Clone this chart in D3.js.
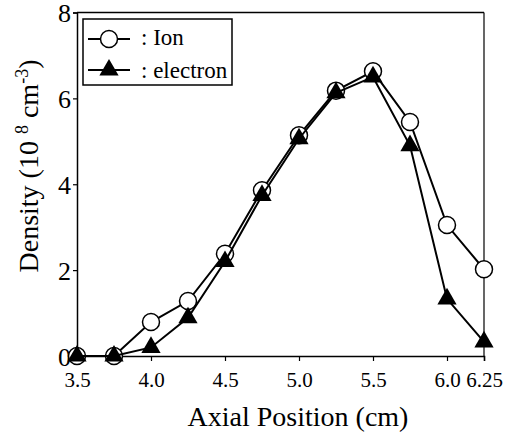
<!DOCTYPE html>
<html>
<head>
<meta charset="utf-8">
<script src="https://cdn.jsdelivr.net/npm/d3@7"></script>
<style>
  body { margin: 0; background: #fff; }
  svg { display: block; }
  text { font-family: "Liberation Serif", "Times New Roman", serif; fill: #000; }
</style>
</head>
<body>
<svg id="chart" width="522" height="432"></svg>
<script>
// axial positions (cm)
var positions = [3.5, 3.75, 4.0, 4.25, 4.5, 4.75, 5.0, 5.25, 5.5, 5.75, 6.0, 6.25];
// densities in 10^8 cm^-3
var ionDensity = [0, 0, 0.79, 1.28, 2.38, 3.86, 5.14, 6.18, 6.63, 5.45, 3.05, 2.02];
var electronDensity = [0, 0, 0.2, 0.89, 2.2, 3.74, 5.06, 6.13, 6.5, 4.9, 1.33, 0.33];
var xTicks = [3.5, 4.0, 4.5, 5.0, 5.5, 6.0, 6.25];
var yTicks = [0, 2, 4, 6, 8];

var svg = d3.select("#chart");

var plotLeft = 77, plotRight = 484, plotTop = 12.5, plotBottom = 356;

var xScale = d3.scaleLinear()
    .domain([3.5, 6.25])
    .range([plotLeft, plotRight]);

var yScale = d3.scaleLinear()
    .domain([0, 8])
    .range([plotBottom, plotTop]);

// frame on top and right
svg.append("line")
    .attr("x1", plotLeft).attr("x2", plotRight)
    .attr("y1", plotTop).attr("y2", plotTop)
    .attr("stroke", "#000").attr("stroke-width", 1.5);
svg.append("line")
    .attr("x1", plotRight).attr("x2", plotRight)
    .attr("y1", plotTop).attr("y2", plotBottom)
    .attr("stroke", "#000").attr("stroke-width", 1.2);

// x axis
var xAxis = d3.axisBottom(xScale)
    .tickValues(xTicks)
    .tickSize(5)
    .tickPadding(14)
    .tickFormat(function (d) { return d === 6.25 ? "6.25" : d3.format(".1f")(d); });

var gx = svg.append("g")
    .attr("transform", "translate(0," + plotBottom + ")")
    .call(xAxis);
gx.select(".domain").attr("stroke-width", 1.5);
gx.selectAll("line").attr("stroke-width", 1.2);
gx.selectAll("text")
    .style("font-size", "21px")
    .attr("dy", "0.55em");

// y axis
var yAxis = d3.axisLeft(yScale)
    .tickValues(yTicks)
    .tickSize(4)
    .tickPadding(2)
    .tickFormat(d3.format("d"));

var gy = svg.append("g")
    .attr("transform", "translate(" + plotLeft + ",0)")
    .call(yAxis);
gy.select(".domain").attr("stroke-width", 1.5);
gy.selectAll("line").attr("stroke-width", 1.2);
gy.selectAll("text")
    .style("font-size", "26px")
    .attr("dy", "0.35em");

// axis titles
svg.append("text")
    .attr("x", 298)
    .attr("y", 426)
    .attr("text-anchor", "middle")
    .style("font-size", "28px")
    .text("Axial Position (cm)");

var yTitle = svg.append("text")
    .attr("transform", "translate(38,166) rotate(-90)")
    .attr("text-anchor", "middle")
    .style("font-size", "28px");
yTitle.append("tspan").text("Density (10 ");
yTitle.append("tspan").attr("dy", -10).style("font-size", "18px").text("8");
yTitle.append("tspan").attr("dy", 10).text(" cm");
yTitle.append("tspan").attr("dy", -10).style("font-size", "18px").text("-3");
yTitle.append("tspan").attr("dy", 10).text(")");

var line = d3.line()
    .x(function (d) { return xScale(d[0]); })
    .y(function (d) { return yScale(d[1]); });

var ionData = positions.map(function (p, i) { return [p, ionDensity[i]]; });
var elecData = positions.map(function (p, i) { return [p, electronDensity[i]]; });

var triangle = d3.symbol().type(d3.symbolTriangle).size(160);

// ion series
svg.append("path")
    .datum(ionData)
    .attr("d", line)
    .attr("fill", "none")
    .attr("stroke", "#000")
    .attr("stroke-width", 2);

svg.selectAll(".ion")
    .data(ionData)
    .enter().append("circle")
    .attr("class", "ion")
    .attr("cx", function (d) { return xScale(d[0]); })
    .attr("cy", function (d) { return yScale(d[1]); })
    .attr("r", 8.5)
    .attr("fill", "#fff")
    .attr("stroke", "#000")
    .attr("stroke-width", 1.5);

// electron series
svg.append("path")
    .datum(elecData)
    .attr("d", line)
    .attr("fill", "none")
    .attr("stroke", "#000")
    .attr("stroke-width", 2);

svg.selectAll(".elec")
    .data(elecData)
    .enter().append("path")
    .attr("class", "elec")
    .attr("transform", function (d) {
        return "translate(" + xScale(d[0]) + "," + yScale(d[1]) + ")";
    })
    .attr("d", triangle)
    .attr("fill", "#000");

// legend
var legend = svg.append("g");
legend.append("rect")
    .attr("x", 83).attr("y", 19)
    .attr("width", 149).attr("height", 66)
    .attr("fill", "#fff")
    .attr("stroke", "#000")
    .attr("stroke-width", 1.5);

legend.append("line")
    .attr("x1", 88).attr("x2", 130).attr("y1", 39).attr("y2", 39)
    .attr("stroke", "#000").attr("stroke-width", 2);
legend.append("circle")
    .attr("cx", 109).attr("cy", 39).attr("r", 8.5)
    .attr("fill", "#fff").attr("stroke", "#000").attr("stroke-width", 1.5);
legend.append("text")
    .attr("x", 141).attr("y", 45)
    .style("font-size", "23px")
    .text(": Ion");

legend.append("line")
    .attr("x1", 88).attr("x2", 130).attr("y1", 70).attr("y2", 70)
    .attr("stroke", "#000").attr("stroke-width", 2);
legend.append("path")
    .attr("transform", "translate(109,70)")
    .attr("d", triangle)
    .attr("fill", "#000");
legend.append("text")
    .attr("x", 141).attr("y", 78)
    .style("font-size", "23px")
    .text(": electron");
</script>
</body>
</html>
